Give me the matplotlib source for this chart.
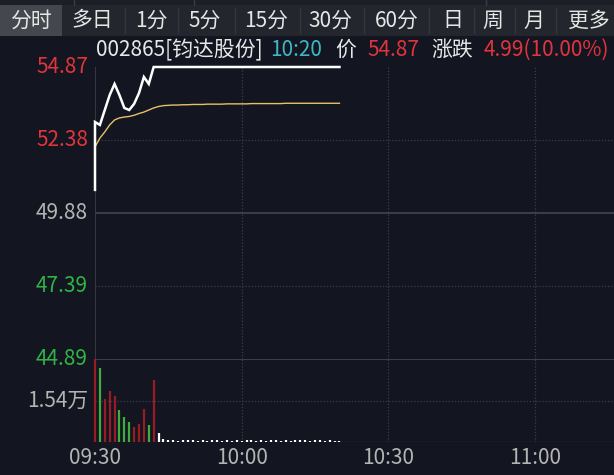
import numpy as np
import matplotlib
matplotlib.use('Agg')
import matplotlib.pyplot as plt

plt.rcParams['font.family'] = ['Noto Sans CJK SC', 'DejaVu Sans']

# --- data ----------------------------------------------------------------
prev_close = 49.88
open_price = 50.67
# 1-minute closes from 09:30 to 10:20
price = [52.99, 52.89, 53.40, 53.91, 54.29, 53.91, 53.47, 53.40, 53.61, 53.98,
         54.53, 54.29, 54.87] + [54.87] * 38
avg = [52.14, 52.44, 52.65, 52.89, 53.06, 53.13, 53.16, 53.18, 53.22, 53.28,
       53.33, 53.40, 53.47, 53.52, 53.55, 53.56, 53.57, 53.57, 53.58, 53.58,
       53.59, 53.59, 53.59, 53.60, 53.60, 53.60, 53.60, 53.61, 53.61, 53.61,
       53.61, 53.61, 53.62, 53.62, 53.62, 53.62, 53.62, 53.62, 53.62, 53.63,
       53.63, 53.63, 53.63, 53.63, 53.63, 53.63, 53.63, 53.63, 53.63, 53.63,
       53.63]
volume = [30800, 27460, 15960, 18920, 17070, 11870, 9280, 7420, 5570, 6680,
          12250, 6310, 23010, 3340, 1200, 600, 800, 500, 700, 800, 600, 500,
          700, 500, 600, 700, 500, 600, 500, 700, 500, 800, 600, 500, 700,
          500, 800, 600, 500, 600, 500, 700, 800, 600, 500, 600, 700, 500,
          600, 500, 500]
price_ticks = [54.87, 52.38, 49.88, 47.39, 44.89]
vol_tick = 15400
vol_max = 30800
time_labels = ['09:30', '10:00', '10:30', '11:00']
time_pos = [0, 30, 60, 90]
tabs = ['分时', '多日', '1分', '5分', '15分', '30分', '60分', '日', '周', '月', '更多']

BG = '#131620'
RED = '#e2343c'
GREEN = '#2fb447'
GRAY = '#b4b4b4'
GRID = '#3b3e48'
FS = 15

W, H = 614, 475
fig = plt.figure(figsize=(W / 100, H / 100), dpi=100, facecolor=BG)

# overlay in pixel coordinates for the tab bar and header
ov = fig.add_axes([0, 0, 1, 1], zorder=0)
ov.set_xlim(0, W)
ov.set_ylim(H, 0)
ov.axis('off')
ov.add_patch(plt.Rectangle((0, 0), W, 5, color='#1d1f26', lw=0))
for x in [74, 194, 486]:
    ov.plot([x, x], [0, 5], color='#3a3c44', lw=1)
ov.add_patch(plt.Rectangle((0, 5), W, 31, color='#24262d', lw=0))
ov.add_patch(plt.Rectangle((0, 5), 62, 31, color='#45474e', lw=0))
tab_x = [31, 92, 151, 205, 266, 330, 397, 453, 493, 534, 589]
for x in [125, 178, 235, 300, 364, 429, 474, 515, 556]:
    ov.plot([x, x], [8, 33], color='#34363d', lw=1)
for t, x in zip(tabs, tab_x):
    ov.text(x, 20.5, t, color='#e6e6e6', fontsize=FS, ha='center', va='center')

hdr_y = 50
ov.text(96, hdr_y, '002865[钧达股份]', color='#e8e8e8', fontsize=FS, va='center')
ov.text(270, hdr_y, '10:20', color='#3fb6c6', fontsize=FS, va='center')
ov.text(335, hdr_y, '价', color='#e8e8e8', fontsize=FS, va='center')
ov.text(367, hdr_y, '%.2f' % price[-1], color=RED, fontsize=FS, va='center')
ov.text(431, hdr_y, '涨跌', color='#e8e8e8', fontsize=FS, va='center')
chg = price[-1] - prev_close
ov.text(484, hdr_y, '%.2f(%.2f%%)' % (chg, chg / prev_close * 100),
        color=RED, fontsize=FS, va='center')

# panels
left, right = 95, W
p_top, p_bot = 67, 359
v_top, v_bot = 359, 442
px_per_min = (535 - 95) / 90
xmax = (right - left) / px_per_min

ax = fig.add_axes([left / W, (H - p_bot) / H, (right - left) / W, (p_bot - p_top) / H])
axv = fig.add_axes([left / W, (H - v_bot) / H, (right - left) / W, (v_bot - v_top) / H])
for a in (ax, axv):
    a.set_facecolor('none')
    a.set_xlim(0, xmax)
    a.set_xticks([])
    a.set_yticks([])
    for s in a.spines.values():
        s.set_visible(False)
    a.axvline(0, color=GRID, lw=1.2, zorder=1)
    for t in time_pos[1:]:
        a.axvline(t, color=GRID, lw=0.9, ls=(0, (1, 1.5)), zorder=1)

ax.set_ylim(price_ticks[-1], price_ticks[0])
for p in price_ticks[1:-1]:
    if p == prev_close:
        ax.axhline(p, color='#3a3d46', lw=1.5)
    else:
        ax.axhline(p, color=GRID, lw=0.9, ls=(0, (1, 1.5)))

mins = np.arange(len(price))
ax.plot(np.r_[0, mins], np.r_[open_price, price], color='white', lw=1.8,
        solid_joinstyle='miter', clip_on=False, zorder=5)
ax.plot(mins, avg, color='#e6c06a', lw=1.0, zorder=4)

for p in price_ticks:
    c = RED if p > prev_close else (GREEN if p < prev_close else GRAY)
    ax.text(-7 / px_per_min, p, '%.2f' % p, color=c, fontsize=FS,
            ha='right', va='center', clip_on=False)

axv.set_ylim(0, vol_max)
axv.axhline(vol_max, color='#3a3d46', lw=1.5)
axv.axhline(0, color='#2c2f38', lw=1)
axv.axhline(vol_tick, color=GRID, lw=0.9, ls=(0, (1, 1.5)))
prev = [open_price] + price[:-1]
colors = ['#961d27' if c > p else ('#3fae3f' if c < p else 'white')
          for c, p in zip(price, prev)]
axv.vlines(mins, 0, volume, colors=colors, lw=1.6, zorder=3, clip_on=False)
axv.text(-7 / px_per_min, vol_tick, '%.2f万' % (vol_tick / 10000), color=GRAY,
         fontsize=FS, ha='right', va='center', clip_on=False)
for lab, t in zip(time_labels, time_pos):
    axv.text(t, -16 / 83 * vol_max, lab, color=GRAY, fontsize=FS,
             ha='center', va='center', clip_on=False)

fig.savefig('out.png', dpi=100, facecolor=BG)
